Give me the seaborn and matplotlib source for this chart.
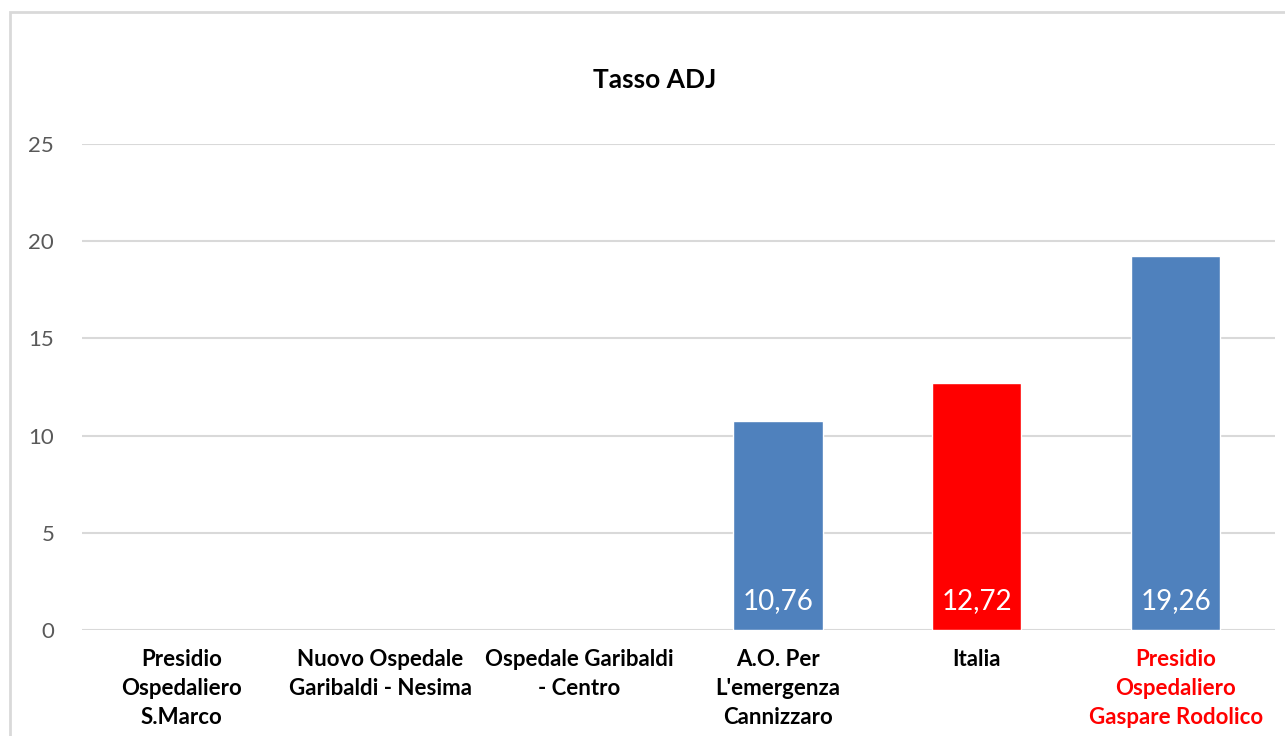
import numpy as np
import pandas as pd
import matplotlib
matplotlib.use("Agg")
import matplotlib.pyplot as plt
from matplotlib.patches import Rectangle
import seaborn as sns

categories = [
    "Presidio\nOspedaliero\nS.Marco",
    "Nuovo Ospedale\nGaribaldi - Nesima",
    "Ospedale Garibaldi\n- Centro",
    "A.O. Per\nL'emergenza\nCannizzaro",
    "Italia",
    "Presidio\nOspedaliero\nGaspare Rodolico",
]
values = [np.nan, np.nan, np.nan, 10.76, 12.72, 19.26]
value_labels = ["", "", "", "10,76", "12,72", "19,26"]
bar_colors = ["#4F81BD", "#4F81BD", "#4F81BD", "#4F81BD", "#FF0000", "#4F81BD"]
label_colors = ["black", "black", "black", "black", "black", "#FF0000"]
yticks = [0, 5, 10, 15, 20, 25]
title = "Tasso ADJ"

sns.set_theme(style="white")
plt.rcParams["font.family"] = ["Lato", "DejaVu Sans"]

df = pd.DataFrame({"cat": categories, "val": values})

fig = plt.figure(figsize=(12.85, 7.36), dpi=100)
ax = fig.add_axes([82 / 1285, 106 / 736, (1275 - 82) / 1285, (630 - 144) / 736])

sns.barplot(data=df, x="cat", y="val", hue="cat", order=categories,
            hue_order=categories, palette=bar_colors, legend=False,
            width=0.45, saturation=1, ax=ax, errorbar=None)

ax.set_ylim(0, 25)
ax.set_yticks(yticks)
ax.yaxis.grid(True, color="#d9d9d9", linewidth=1.5)
ax.set_axisbelow(True)
for s in ax.spines.values():
    s.set_visible(False)
ax.set_xlabel("")
ax.set_ylabel("")
ax.tick_params(axis="y", length=0, labelsize=16, labelcolor="#595959", pad=20)
ax.tick_params(axis="x", length=0, pad=14)
ax.set_xticks(range(len(categories)))
ax.set_xticklabels(categories, fontsize=16, fontweight="bold", linespacing=1.45, va="top")
for t, c in zip(ax.get_xticklabels(), label_colors):
    t.set_color(c)

for i, (v, lab) in enumerate(zip(values, value_labels)):
    if lab:
        ax.text(i, 1.5, lab, ha="center", va="center", color="white", fontsize=20)

fig.text(655 / 1285, 1 - 80 / 736, title, ha="center", va="center",
         fontsize=19, fontweight="bold", color="black")

fig.patches.append(Rectangle((10 / 1285, -0.1), 1.2, (736 - 12) / 736 + 0.1,
                             transform=fig.transFigure, fill=False,
                             edgecolor="#d9d9d9", linewidth=2))

fig.savefig("out.png", dpi=100)
